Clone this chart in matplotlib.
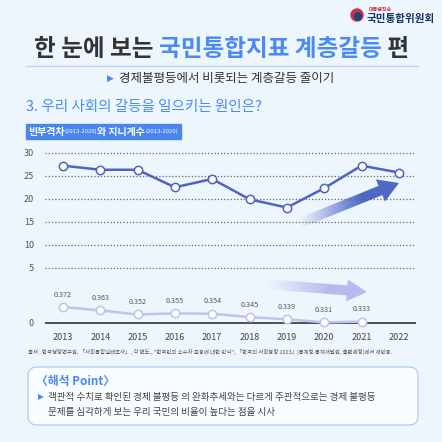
import numpy as np
import matplotlib
matplotlib.use('Agg')
from matplotlib import pyplot as plt
from matplotlib.patches import FancyArrow, FancyBboxPatch, Rectangle

plt.rcParams['font.family'] = ['Noto Sans CJK KR', 'DejaVu Sans']

years = [2013, 2014, 2015, 2016, 2017, 2018, 2019, 2020, 2021, 2022]
gap_values = [27.2, 26.3, 26.3, 22.5, 24.3, 19.9, 18.1, 22.3, 27.2, 25.7]
gini_years = [2013, 2014, 2015, 2016, 2017, 2018, 2019, 2020, 2021]
gini_values = [0.372, 0.363, 0.352, 0.355, 0.354, 0.345, 0.339, 0.331, 0.333]
upper_ticks = [5, 10, 15, 20, 25, 30]

BG = '#eef6fd'
BLUE = '#4a8af2'
LINE_BLUE = '#4f63c4'
LAVENDER = '#c3c1f0'
W = H = 442


def px_box(left, top, right, bottom):
    'Convert pixel box to figure fraction rect'
    return [left / W, 1 - bottom / H, (right - left) / W, (bottom - top) / H]


def text_run(ax, x, y, pieces, renderer):
    'Write text pieces one after another, returns end x'
    for txt, kw in pieces:
        t = ax.text(x, y, txt, va='center', **kw)
        x += t.get_window_extent(renderer).width
    return x


def gradient_arrow(ax, x, y, dx, dy, width, hw, hl, color):
    'Arrow that fades from pale on the left to solid on the right'
    arrow = FancyArrow(x, y, dx, dy, width=width, head_width=hw, head_length=hl,
                       length_includes_head=True, facecolor='none', edgecolor='none')
    ax.add_patch(arrow)
    rgb = np.array(matplotlib.colors.to_rgb(color))
    grad = np.linspace(0, 1, 256)
    img = np.zeros((2, 256, 4))
    img[..., :3] = rgb
    img[..., 3] = np.clip(grad * 1.6, 0, 1)
    im = ax.imshow(img, extent=(x, x + dx, max(y, y + dy) + hw, min(y, y + dy) - hw),
                   aspect='auto', zorder=3, interpolation='bilinear')
    im.set_clip_path(arrow)


fig = plt.figure(figsize=(4.42, 4.42), dpi=100)
fig.patch.set_facecolor(BG)
r = fig.canvas.get_renderer()

# overlay in pixel coordinates for texts and decorations
deco = fig.add_axes([0, 0, 1, 1])
deco.set_xlim(0, W)
deco.set_ylim(H, 0)
deco.axis('off')

# logo
deco.add_patch(plt.Circle((357, 15), 6, color='#c8334a', zorder=2))
deco.add_patch(plt.Circle((358, 16.5), 3.5, color='#24407e', zorder=3))
deco.text(369, 9, '대통령직속', fontsize=3.6, color='#d0263b', fontweight='bold', va='center')
deco.text(367, 18.5, '국민통합위원회', fontsize=7.6, color='#1d2f6b', fontweight='bold', va='center')

# title
title_kw = dict(fontsize=17, fontweight='black')
text_run(deco, 34, 49, [
    ('한 눈에 보는 ', dict(color='#333333', **title_kw)),
    ('국민통합지표 계층갈등', dict(color=BLUE, **title_kw)),
    (' 편', dict(color='#333333', **title_kw)),
], r)

deco.plot([26, 418], [66, 66], color='#b9d6f7', lw=1)
deco.text(107, 78, '▶', fontsize=6.5, color=BLUE, va='center', family=['DejaVu Sans'])
deco.text(119, 78, '경제불평등에서 비롯되는 계층갈등 줄이기', fontsize=9, color='#333333', va='center')

deco.text(26, 107, '3. 우리 사회의 갈등을 일으키는 원인은?', fontsize=10.5, color=BLUE, va='center')
deco.add_patch(Rectangle((26, 124), 155, 15, color='#4b86ee'))
end = text_run(deco, 28, 131.5, [
    ('빈부격차', dict(fontsize=7.2, color='white', fontweight='bold')),
    ('(2013-2020)', dict(fontsize=4.3, color='white')),
    ('와 지니계수', dict(fontsize=7.2, color='white', fontweight='bold')),
    ('(2013-2020)', dict(fontsize=4.3, color='white')),
], r)

# arrows
gradient_arrow(deco, 300, 223, 99, -40, 10, 24, 20, '#4f68c8')
gradient_arrow(deco, 266, 284, 101, 8, 10, 22, 20, '#bbb8f0')

deco.text(28, 352, '출처 : 한국행정연구원, 「사회통합실태조사」, 각 연도., "한국인의 소수자 포용에 대한 인식", '
          '「한국의 사회동향 2023」(통계청 통계개발원, 출판예정)에서 재인용.',
          fontsize=3.9, color='#555555', va='center')

deco.add_patch(FancyBboxPatch((28, 367), 390, 58, boxstyle='round,pad=0,rounding_size=9',
                              facecolor='#f9fcff', edgecolor='#a9cdf5', lw=0.9))
deco.text(36, 381, '〈해석 Point〉', fontsize=8.5, color=BLUE, fontweight='bold', va='center')
deco.text(38, 397, '▶', fontsize=5.5, color=BLUE, va='center', family=['DejaVu Sans'])
deco.text(48, 397, '객관적 수치로 확인된 경제 불평등 의 완화추세와는 다르게 주관적으로는 경제 불평등',
          fontsize=6.9, color='#444444', va='center')
deco.text(48, 412, '문제를 심각하게 보는 우리 국민의 비율이 높다는 점을 시사',
          fontsize=6.9, color='#444444', va='center')

# upper chart: income gap
ax = fig.add_axes(px_box(45, 145, 416, 275))
ax.patch.set_alpha(0)
ax.set_xlim(2012.52, 2022.46)
ax.set_ylim(3.48, 31.67)
ax.set_yticks(upper_ticks)
ax.set_xticks([])
for s in ax.spines.values():
    s.set_visible(False)
ax.tick_params(axis='y', length=0, labelsize=6.5, labelcolor='#555555', pad=8)
for v in upper_ticks:
    ax.axhline(v, color='#666666', lw=0.9, ls=(0, (1, 1.6)), zorder=1)
ax.plot(years, gap_values, color=LINE_BLUE, lw=1.8, marker='o', ms=6,
        mfc='white', mec=LINE_BLUE, mew=1.1, zorder=5)

# lower chart: gini
ax2 = fig.add_axes(px_box(45, 275, 416, 330))
ax2.patch.set_alpha(0)
ax2.set_xlim(2012.52, 2022.46)
ax2.set_ylim(0.3105, 0.4575)
for s in ax2.spines.values():
    s.set_visible(False)
ax2.set_yticks([0.330])
ax2.set_yticklabels(['0'])
ax2.set_xticks(years)
ax2.set_xticklabels([str(y) for y in years])
ax2.tick_params(axis='y', length=0, labelsize=6.5, labelcolor='#555555', pad=8)
ax2.tick_params(axis='x', length=0, labelsize=6.5, labelcolor='#444444', pad=2)
ax2.axhline(0.330, color='#333333', lw=1.2, zorder=2)
ax2.plot(gini_years, gini_values, color=LAVENDER, lw=1.8, marker='o', ms=6,
         mfc='white', mec=LAVENDER, mew=1.1, zorder=5, clip_on=False)
for yr, g in zip(gini_years, gini_values):
    ax2.annotate(f'{g:.3f}', (yr, g), xytext=(0, 6), textcoords='offset points',
                 ha='center', va='bottom', fontsize=5.2, color='#555555')

fig.savefig('out.png', dpi=100, facecolor=BG)
